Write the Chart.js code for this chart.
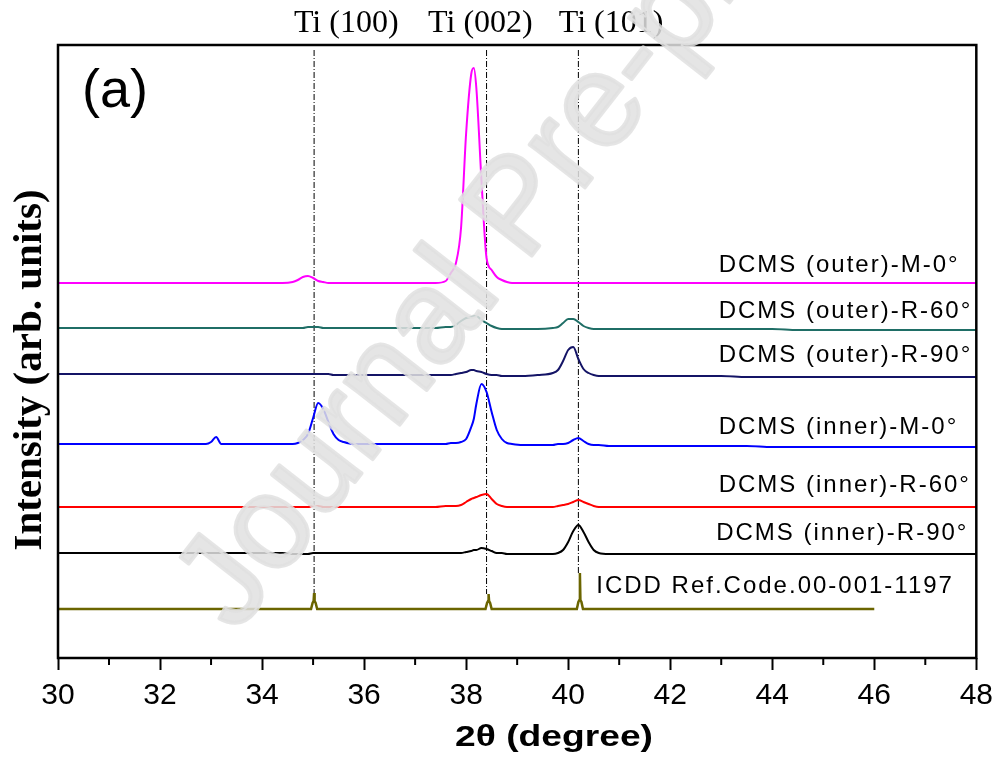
<!DOCTYPE html>
<html>
<head>
<meta charset="utf-8">
<script src="https://cdn.jsdelivr.net/npm/chart.js@4.4.0/dist/chart.umd.min.js"></script>
<style>
  html, body { margin: 0; padding: 0; background: #fff; }
  #wrap { width: 1001px; height: 763px; position: relative; }
</style>
</head>
<body>
<div id="wrap"><canvas id="xrd"></canvas></div>
<script>
// 2theta grid (degree) shared by the six measured patterns
const twoTheta = [
  30.0, 30.5, 31.0, 31.5, 32.0, 32.5, 32.9, 33.0, 33.1, 33.2,
  33.6, 34.0, 34.4, 34.6, 34.7, 34.8, 34.9, 35.0, 35.1, 35.2,
  35.3, 35.4, 35.5, 35.6, 35.8, 36.2, 36.6, 37.0, 37.4, 37.6,
  37.7, 37.8, 37.9, 38.0, 38.1, 38.15, 38.2, 38.3, 38.4, 38.5,
  38.6, 38.7, 38.8, 38.9, 39.1, 39.4, 39.7, 39.8, 39.9, 40.0,
  40.1, 40.2, 40.3, 40.4, 40.5, 40.6, 40.8, 41.2, 41.6, 42.0,
  42.5, 43.0, 43.5, 44.0, 44.5, 45.0, 45.5, 46.0, 46.5, 47.0,
  47.5, 48.0
];

// intensities (arb. units, already offset for stacking)
const outerM0 = [
  375, 375, 375, 375, 375, 375, 375, 375, 375, 375,
  375, 375, 375, 376, 378, 381, 382, 380, 377, 376,
  375, 375, 375, 375, 375, 375, 375, 375, 375, 377,
  385, 395, 430, 525, 584, 590, 570, 478, 400, 388,
  381, 378, 376, 375, 375, 375, 375, 375, 375, 375,
  375, 375, 375, 375, 375, 375, 375, 375, 375, 375,
  375, 375, 375, 375, 375, 375, 375, 375, 375, 375,
  375, 375
];
const outerR60 = [
  330, 330, 330, 330, 330, 330, 330, 330, 330, 330,
  330, 330, 330, 330, 330, 330, 331, 331, 331, 330,
  330, 330, 330, 330, 330, 330, 330, 330, 330, 331,
  331, 333, 337, 340, 341, 342, 342, 338, 335, 332,
  330, 329, 329, 329, 329, 329, 330, 331, 335, 339,
  339, 336, 332, 330, 329, 329, 329, 329, 329, 329,
  329, 329, 329, 329, 328, 328, 328, 328, 328, 328,
  328, 328
];
const outerR90 = [
  284, 284, 284, 284, 284, 284, 284, 284, 284, 284,
  284, 284, 284, 284, 284, 284, 284, 284, 284, 284,
  284, 283, 283, 283, 283, 283, 283, 283, 283, 283,
  283, 284, 285, 286, 288, 288, 287, 286, 284, 283,
  283, 282, 282, 282, 282, 283, 285, 288, 297, 308,
  311, 299, 289, 285, 283, 282, 282, 282, 282, 282,
  282, 282, 281, 281, 281, 281, 281, 281, 281, 281,
  281, 281
];
const innerM0 = [
  214, 214, 214, 214, 214, 214, 214, 216, 221, 214,
  214, 214, 214, 214, 215, 218, 224, 240, 255, 249,
  236, 224, 218, 216, 214, 214, 214, 214, 214, 214,
  215, 215, 216, 219, 231, 239, 254, 274, 266, 246,
  228, 219, 215, 214, 213, 213, 213, 214, 214, 215,
  218, 220, 217, 214, 213, 213, 212, 212, 212, 212,
  212, 212, 212, 211, 211, 211, 211, 211, 211, 211,
  211, 211
];
const innerR60 = [
  151, 151, 151, 151, 151, 151, 151, 151, 151, 151,
  151, 151, 151, 151, 151, 151, 151, 152, 152, 151,
  151, 151, 151, 151, 151, 151, 151, 151, 151, 152,
  152, 152, 153, 156, 159, 160, 161, 163, 164, 159,
  154, 152, 151, 151, 151, 151, 151, 152, 153, 154,
  156, 158, 156, 154, 152, 151, 151, 151, 151, 151,
  151, 151, 151, 151, 151, 151, 151, 151, 151, 151,
  151, 151
];
const innerR90 = [
  105, 105, 105, 105, 105, 105, 105, 105, 105, 105,
  105, 105, 105, 104, 104, 104, 104, 105, 105, 105,
  105, 105, 105, 105, 105, 105, 105, 105, 105, 105,
  105, 105, 105, 106, 107, 108, 108, 110, 109, 107,
  105, 105, 104, 104, 104, 104, 104, 105, 108, 116,
  127, 133, 126, 116, 108, 105, 104, 104, 104, 104,
  104, 104, 104, 104, 104, 104, 104, 104, 104, 104,
  104, 104
];

// ICDD reference pattern (stick peaks)
const icddTheta = [30.0, 34.96, 34.99, 35.01, 35.02, 35.03, 35.05, 35.08,
  38.38, 38.41, 38.43, 38.44, 38.45, 38.47, 38.50,
  40.17, 40.20, 40.22, 40.23, 40.24, 40.26, 40.29, 46.0];
const icddInt = [49, 49, 55, 57, 65, 57, 55, 49,
  49, 55, 57, 64, 57, 55, 49,
  49, 56, 58, 85, 58, 56, 49, 49];

// Ti reflections marked with dash-dot lines
const tiPeaks = [35.02, 38.4, 40.2];
const tiPeakLow = [65, 64, 85];
const tiLabels = ['Ti (100)', 'Ti (002)', 'Ti (101)'];

const seriesNames = [
  'DCMS (outer)-M-0°', 'DCMS (outer)-R-60°', 'DCMS (outer)-R-90°',
  'DCMS (inner)-M-0°', 'DCMS (inner)-R-60°', 'DCMS (inner)-R-90°'
];
const icddName = 'ICDD Ref.Code.00-001-1197';
const xTicks = [30, 32, 34, 36, 38, 40, 42, 44, 46, 48];
const xMinorTicks = [31, 33, 35, 37, 39, 41, 43, 45, 47];

const seriesColors = ['#ff00ff', '#1f6e66', '#141466', '#0000ff', '#ff0000', '#000000'];
const icddColor = '#6b6500';

// where the text annotations sit (in axis units)
const seriesLabelAt = [
  {x: 42.95, y: 393}, {x: 42.95, y: 347}, {x: 42.95, y: 303},
  {x: 42.95, y: 231}, {x: 42.95, y: 173}, {x: 42.9, y: 125}
];
const icddLabelAt = {x: 40.55, y: 72};
const tiLabelX = [35.65, 38.28, 40.84];

function toPoints(xs, ys) {
  return xs.map((v, i) => ({x: v, y: ys[i]}));
}

const allSeries = [outerM0, outerR60, outerR90, innerM0, innerR60, innerR90];

const datasets = allSeries.map((ys, i) => ({
  label: seriesNames[i],
  data: toPoints(twoTheta, ys),
  borderColor: seriesColors[i],
  borderWidth: 2,
  pointRadius: 0,
  cubicInterpolationMode: 'monotone',
  fill: false
}));

datasets.push({
  label: icddName,
  data: toPoints(icddTheta, icddInt),
  borderColor: icddColor,
  borderWidth: 2.5,
  pointRadius: 0,
  tension: 0,
  fill: false
});

tiPeaks.forEach((p, i) => {
  datasets.push({
    label: tiLabels[i],
    data: [{x: p, y: 608}, {x: p, y: tiPeakLow[i]}],
    borderColor: '#000',
    borderWidth: 1,
    borderDash: [6, 2, 1, 2],
    pointRadius: 0,
    tension: 0,
    fill: false
  });
});

// text, frame, minor ticks and the watermark
const decorations = {
  id: 'decorations',
  afterDraw(chart) {
    const {ctx, chartArea: a, scales: {x, y}} = chart;
    ctx.save();

    // minor ticks
    ctx.strokeStyle = '#000';
    ctx.lineWidth = 2;
    xMinorTicks.forEach(v => {
      const px = x.getPixelForValue(v);
      ctx.beginPath();
      ctx.moveTo(px, a.bottom);
      ctx.lineTo(px, a.bottom + 7);
      ctx.stroke();
    });

    // frame
    ctx.lineWidth = 2.5;
    ctx.strokeRect(a.left, a.top, a.right - a.left, a.bottom - a.top);

    ctx.fillStyle = '#000';

    // panel letter
    ctx.font = '54px "Liberation Sans", Arial, sans-serif';
    ctx.textAlign = 'left';
    ctx.textBaseline = 'alphabetic';
    ctx.fillText('(a)', 82, 107);

    // Ti reflection labels
    ctx.font = '32px "Liberation Serif", "Times New Roman", serif';
    ctx.textAlign = 'center';
    ctx.textBaseline = 'middle';
    tiLabels.forEach((t, i) => {
      ctx.fillText(t, x.getPixelForValue(tiLabelX[i]), 24);
    });

    // series labels
    ctx.font = '24px "Liberation Sans", Arial, sans-serif';
    ctx.textAlign = 'left';
    ctx.letterSpacing = '2px';
    seriesNames.forEach((t, i) => {
      const p = seriesLabelAt[i];
      ctx.fillText(t, x.getPixelForValue(p.x), y.getPixelForValue(p.y));
    });
    ctx.fillText(icddName, x.getPixelForValue(icddLabelAt.x), y.getPixelForValue(icddLabelAt.y));
    ctx.letterSpacing = '0px';

    // y axis title
    ctx.save();
    ctx.translate(30, 370);
    ctx.rotate(-Math.PI / 2);
    ctx.font = 'bold 41px "Liberation Serif", "Times New Roman", serif';
    ctx.textAlign = 'center';
    ctx.textBaseline = 'middle';
    ctx.fillText('Intensity (arb. units)', 0, 0);
    ctx.restore();

    // x axis title, stretched a little like the original
    ctx.save();
    ctx.font = 'bold 30px "Liberation Sans", Arial, sans-serif';
    const xt = '2θ (degree)';
    const w = ctx.measureText(xt).width;
    ctx.translate(554, 738);
    ctx.scale(198 / w, 1);
    ctx.textAlign = 'center';
    ctx.textBaseline = 'middle';
    ctx.fillText(xt, 0, 0);
    ctx.restore();

    // watermark
    ctx.save();
    ctx.translate(236, 634);
    ctx.rotate(-52 * Math.PI / 180);
    ctx.font = '132px "Liberation Sans", Arial, sans-serif';
    ctx.textAlign = 'left';
    ctx.textBaseline = 'alphabetic';
    ctx.fillStyle = 'rgba(224, 224, 224, 0.85)';
    ctx.strokeStyle = 'rgba(224, 224, 224, 0.85)';
    ctx.lineWidth = 4;
    ctx.lineJoin = 'round';
    ctx.fillText('Journal Pre-proof', 0, 0);
    ctx.strokeText('Journal Pre-proof', 0, 0);
    ctx.restore();

    ctx.restore();
  }
};

const chart = new Chart(document.getElementById('xrd'), {
  type: 'line',
  data: {datasets: datasets},
  options: {
    responsive: true,
    maintainAspectRatio: false,
    animation: false,
    layout: {padding: {top: 45, right: 22, left: 0, bottom: 0}},
    plugins: {
      legend: {display: false},
      tooltip: {enabled: false}
    },
    scales: {
      x: {
        type: 'linear',
        min: 30,
        max: 48,
        afterFit: function(scale) { scale.height = 105; },
        afterBuildTicks: function(scale) {
          scale.ticks = xTicks.map(v => ({value: v}));
        },
        ticks: {
          color: '#000',
          padding: 8,
          maxRotation: 0,
          font: {family: '"Liberation Sans", Arial, sans-serif', size: 30}
        },
        grid: {
          drawOnChartArea: false,
          drawTicks: true,
          tickLength: 12,
          tickWidth: 2,
          tickColor: '#000'
        },
        border: {display: false}
      },
      y: {
        type: 'linear',
        min: 0,
        max: 613,
        afterFit: function(scale) { scale.width = 58; },
        ticks: {display: false},
        grid: {display: false},
        border: {display: false}
      }
    }
  },
  plugins: [decorations]
});
</script>
</body>
</html>
